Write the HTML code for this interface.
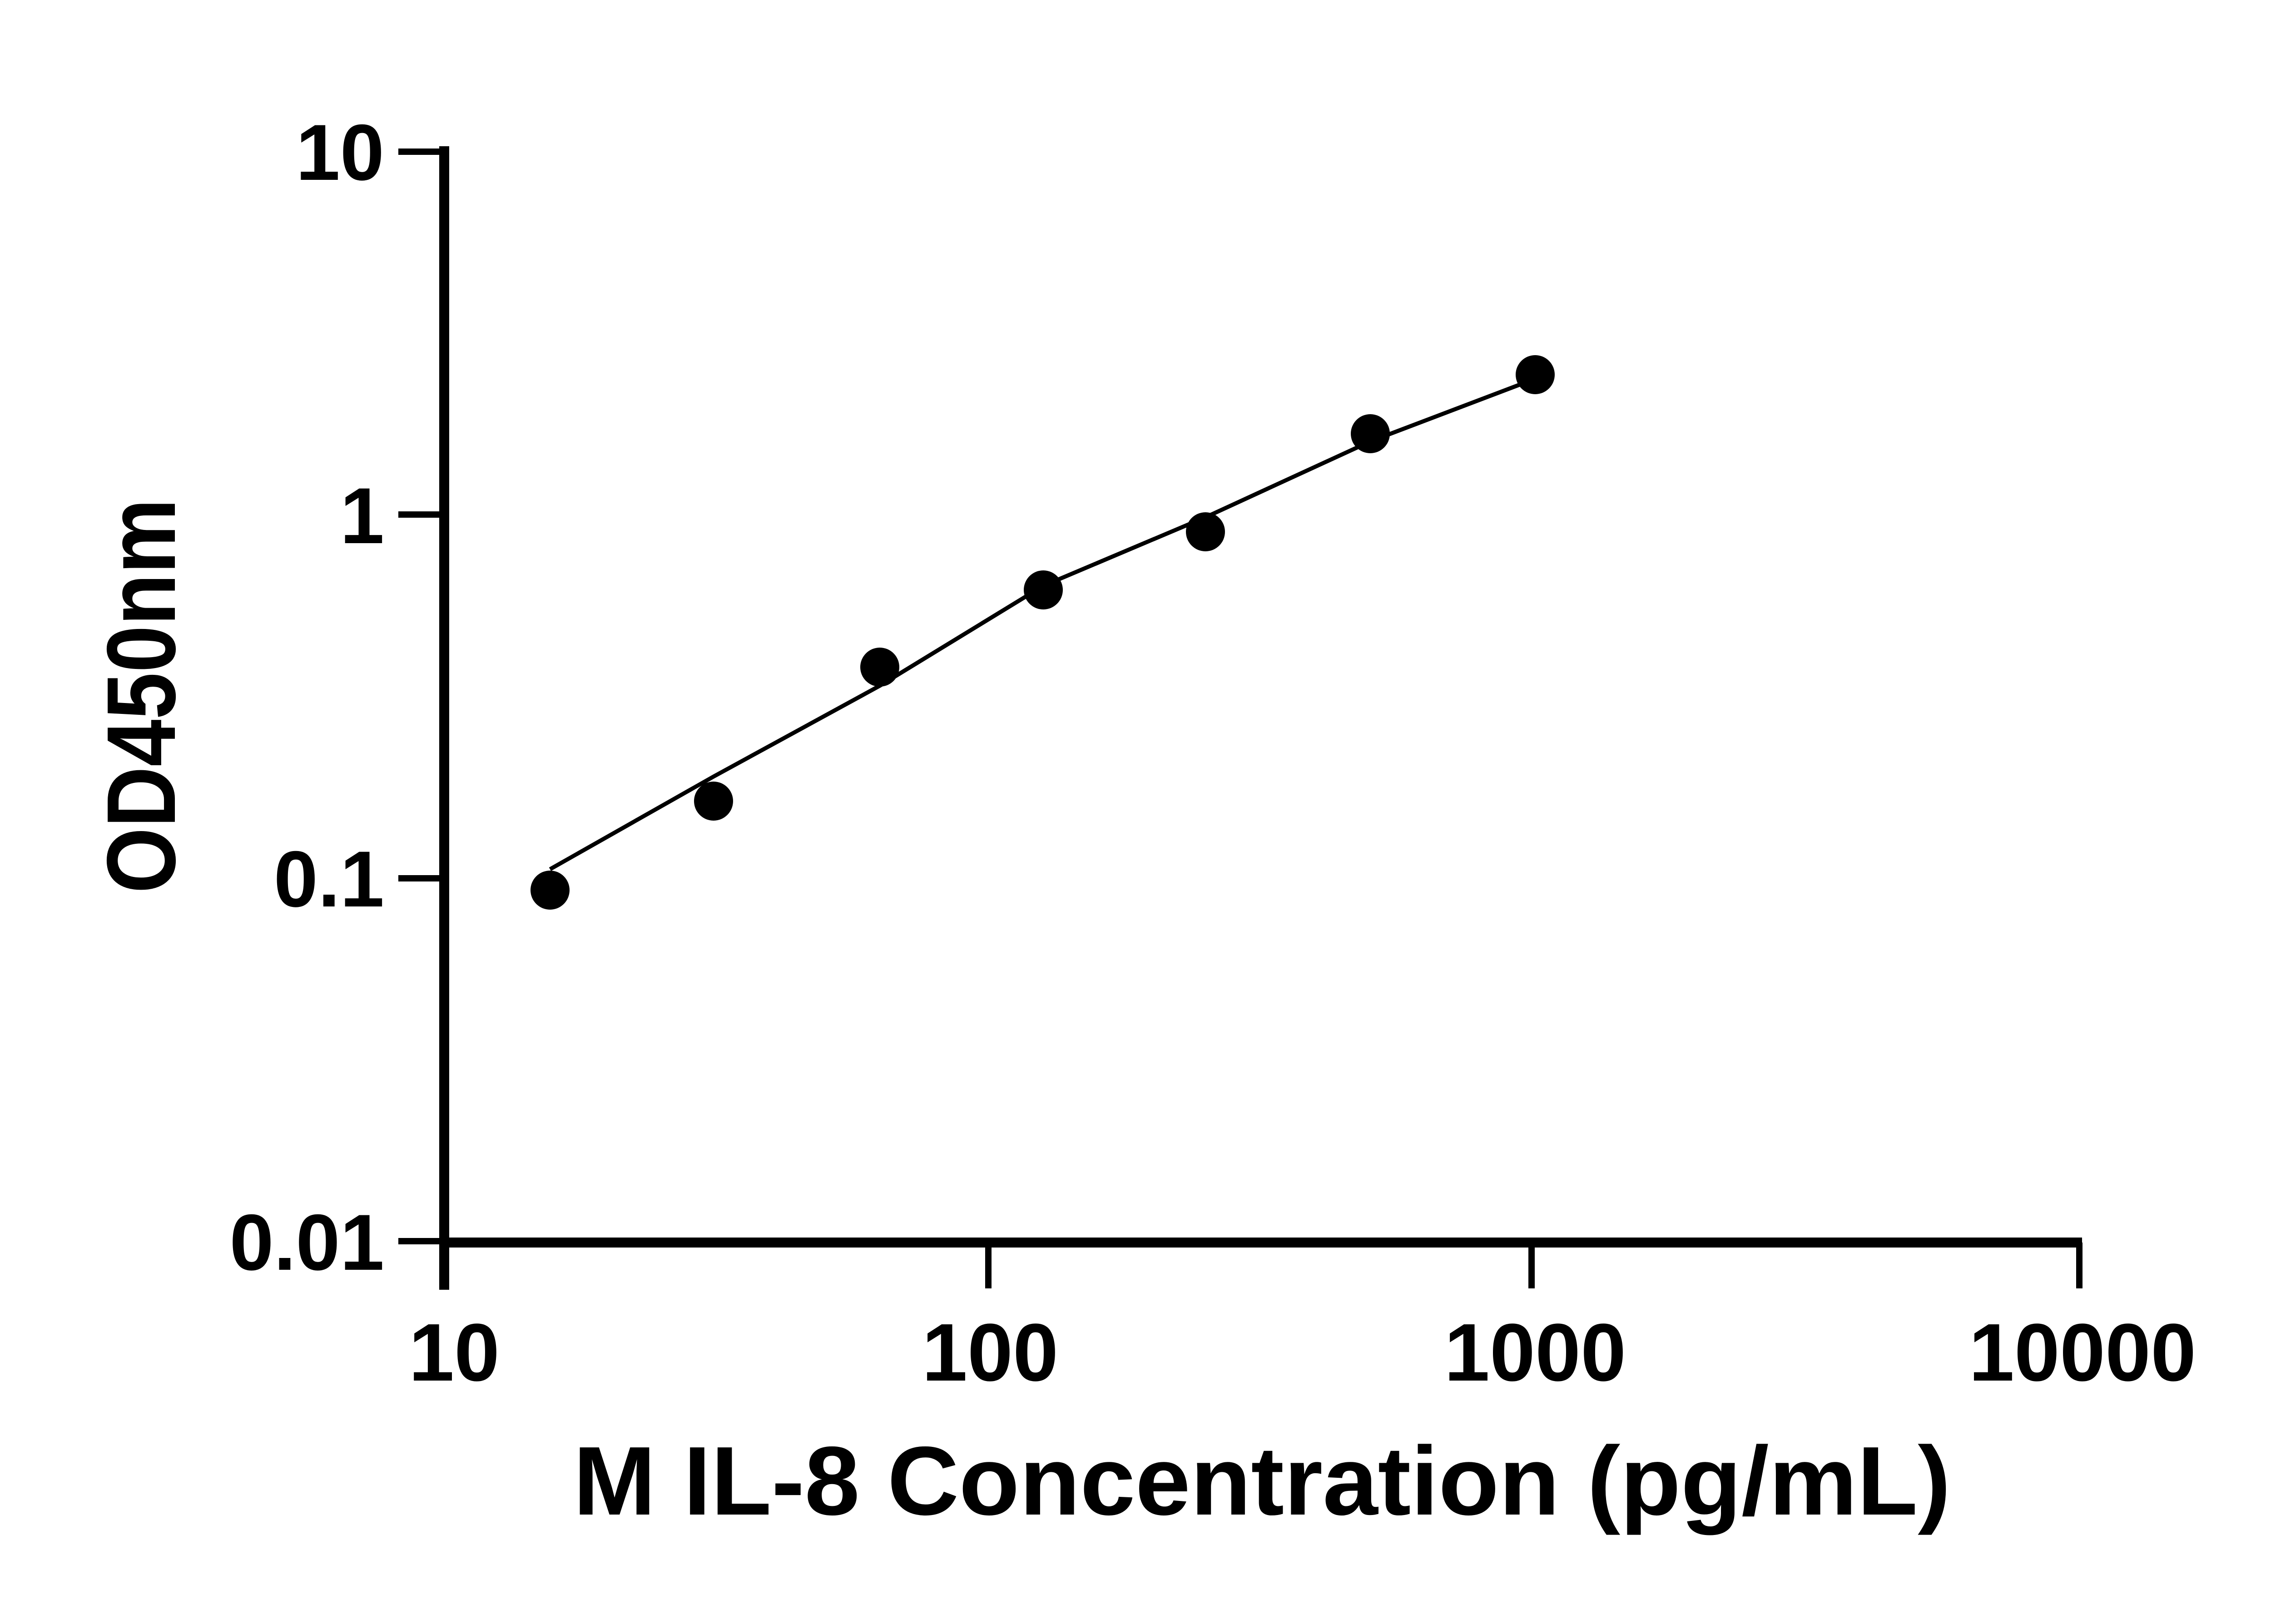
<!DOCTYPE html>
<html><head><style>
html,body{margin:0;padding:0;background:#fff;}
svg{display:block;}
text{font-family:"Liberation Sans",sans-serif;font-weight:bold;fill:#000;}
</style></head><body>
<svg width="5130" height="3576" viewBox="0 0 5130 3576" xmlns="http://www.w3.org/2000/svg">
<g stroke="#000" fill="none">
<line x1="978" y1="322" x2="978" y2="2840" stroke-width="22"/>
<line x1="967" y1="2736" x2="4584" y2="2736" stroke-width="22"/>
<g stroke-width="14">
<line x1="877" y1="334" x2="978" y2="334"/>
<line x1="877" y1="1133" x2="978" y2="1133"/>
<line x1="877" y1="1934" x2="978" y2="1934"/>
<line x1="877" y1="2733" x2="978" y2="2733"/>
<line x1="2176" y1="2736" x2="2176" y2="2837"/>
<line x1="3372" y1="2736" x2="3372" y2="2837"/>
<line x1="4578" y1="2736" x2="4578" y2="2837"/>
</g>
<polyline stroke-width="9" points="1211,1914 1571,1710 1937,1510 2297,1290 2654,1139 3017,972 3380,834"/>
</g>
<g fill="#000">
<circle cx="1211" cy="1960" r="43"/>
<circle cx="1571" cy="1764" r="43"/>
<circle cx="1937" cy="1469" r="43"/>
<circle cx="2297" cy="1299" r="43"/>
<circle cx="2654" cy="1171" r="43"/>
<circle cx="3017" cy="955" r="43"/>
<circle cx="3380" cy="825" r="43"/>
</g>
<g font-size="175" text-anchor="end">
<text x="846" y="396">10</text>
<text x="846" y="1196">1</text>
<text x="846" y="1996">0.1</text>
<text x="846" y="2796">0.01</text>
</g>
<g font-size="180" text-anchor="middle">
<text x="1000" y="3040">10</text>
<text x="2180" y="3040">100</text>
<text x="3380" y="3040">1000</text>
<text x="4585" y="3040">10000</text>
</g>
<text x="1262" y="3335" font-size="215" textLength="3033" lengthAdjust="spacingAndGlyphs">M IL-8 Concentration (pg/mL)</text>
<text transform="translate(385,1967) rotate(-90)" font-size="215" textLength="869" lengthAdjust="spacingAndGlyphs">OD450nm</text>
</svg>
</body></html>
